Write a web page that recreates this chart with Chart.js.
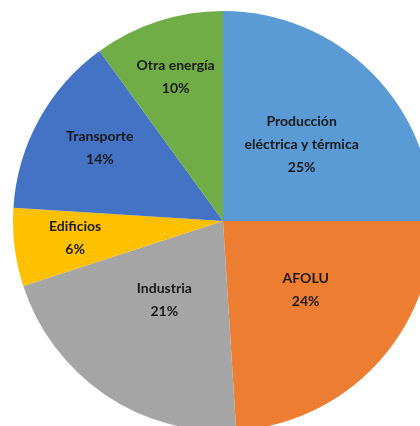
<!DOCTYPE html>
<html>
<head>
<meta charset="utf-8">
<script src="https://cdn.jsdelivr.net/npm/chart.js@4/dist/chart.umd.min.js"></script>
<style>
  html, body { margin: 0; padding: 0; background: #fff; }
  #wrap { width: 420px; height: 426px; position: relative; }
</style>
</head>
<body>
<div id="wrap"><canvas id="chart"></canvas></div>
<script>
// Emission shares by sector (clockwise from 12 o'clock)
const categories = [
  ['Producción', 'eléctrica y térmica'],
  ['AFOLU'],
  ['Industria'],
  ['Edificios'],
  ['Transporte'],
  ['Otra energía']
];
const shares = [25, 24, 21, 6, 14, 10];

const sliceColors = ['#5B9BD5', '#ED7D31', '#A5A5A5', '#FFC000', '#4472C4', '#70AD47'];
// how far out (fraction of radius) each label sits, plus a small px nudge
const labelRadius = [0.57, 0.54, 0.48, 0.71, 0.68, 0.73];
const labelNudge = [[-6, 8], [0, -9], [-2, -4], [0, -2], [2, -4], [0, 2]];

// draw "name / xx%" inside each slice
const sliceLabels = {
  id: 'sliceLabels',
  afterDatasetsDraw(chart) {
    const ctx = chart.ctx;
    const meta = chart.getDatasetMeta(0);
    ctx.save();
    ctx.font = 'bold 14px Lato, "Open Sans", sans-serif';
    ctx.fillStyle = '#1a1a1a';
    ctx.textAlign = 'center';
    ctx.textBaseline = 'middle';
    meta.data.forEach((arc, i) => {
      const p = arc.getProps(['x', 'y', 'startAngle', 'endAngle', 'outerRadius'], true);
      const mid = (p.startAngle + p.endAngle) / 2;
      const r = p.outerRadius * labelRadius[i];
      const cx = p.x + Math.cos(mid) * r + labelNudge[i][0];
      const cy = p.y + Math.sin(mid) * r + labelNudge[i][1];
      const lines = categories[i].concat([shares[i] + '%']);
      const lh = 23;
      const top = cy - (lines.length - 1) * lh / 2;
      lines.forEach((t, j) => ctx.fillText(t, cx, top + j * lh));
    });
    ctx.restore();
  }
};

const canvas = document.getElementById('chart');
canvas.chart = new Chart(canvas, {
  type: 'pie',
  data: {
    labels: categories,
    datasets: [{
      data: shares,
      backgroundColor: sliceColors,
      borderWidth: 0
    }]
  },
  options: {
    responsive: true,
    maintainAspectRatio: false,
    animation: false,
    radius: 210,
    layout: { padding: { left: 26, right: 0, top: 16, bottom: 0 } },
    plugins: {
      legend: { display: false },
      tooltip: { enabled: false }
    }
  },
  plugins: [sliceLabels]
});
</script>
</body>
</html>
